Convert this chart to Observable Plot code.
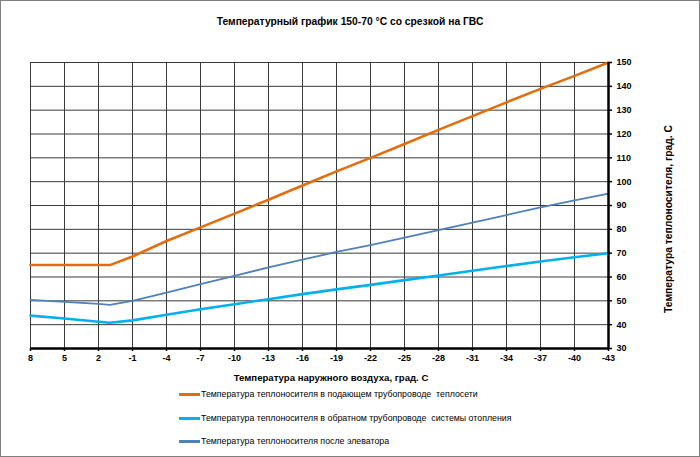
<!DOCTYPE html>
<html>
<head>
<meta charset="utf-8">
<script src="https://cdn.jsdelivr.net/npm/d3@7"></script>
<script src="https://cdn.jsdelivr.net/npm/@observablehq/plot@0.6"></script>
<style>
  html, body { margin: 0; padding: 0; background: #fff; }
  #wrap { position: relative; width: 700px; height: 457px; overflow: hidden; font-family: "Liberation Sans", Arial, sans-serif; color: #000; }
  #border { position: absolute; left: 0; top: 0; width: 700px; height: 457px; box-sizing: border-box; border: 1px solid #7f7f7f; pointer-events: none; }
  #title { position: absolute; left: 0; width: 700px; top: 16px; text-align: center; font-weight: bold; font-size: 10.3px; }
  #chart { position: absolute; left: 0; top: 40px; }
  #xlabel { position: absolute; left: 31px; width: 600px; top: 372px; text-align: center; font-weight: bold; font-size: 9.6px; }
  #ylabel { position: absolute; left: 668px; top: 219px; transform: translate(-50%, -50%) rotate(-90deg); white-space: nowrap; font-weight: bold; font-size: 10.3px; }
  .leg { position: absolute; left: 179px; font-size: 8.8px; white-space: pre; display: flex; align-items: center; }
  .sw { display: inline-block; width: 21px; height: 3px; margin-right: 1px; }
</style>
</head>
<body>
<div id="wrap">
  <div id="title"></div>
  <div id="chart"></div>
  <div id="xlabel"></div>
  <div id="ylabel"></div>
  <div id="legend"></div>
  <div id="border"></div>
</div>
<script>
const titleText = "Температурный график 150-70 °С со срезкой на ГВС";
const xLabelText = "Температура наружного воздуха, град. С";
const yLabelText = "Температура теплоносителя, град. С";
const seriesNames = [
  "Температура теплоносителя в подающем трубопроводе  теплосети",
  "Температура теплоносителя в обратном трубопроводе  системы отопления",
  "Температура теплоносителя после элеватора"
];
const seriesColors = ["#E46C0A", "#00B0F0", "#4F81BD"];

const xTicks = [8, 5, 2, -1, -4, -7, -10, -13, -16, -19, -22, -25, -28, -31, -34, -37, -40, -43];
const yTicks = [30, 40, 50, 60, 70, 80, 90, 100, 110, 120, 130, 140, 150];

const outdoor = [8, 5, 2, 1, -1, -4, -7, -10, -13, -16, -19, -22, -25, -28, -31, -34, -37, -40, -43];
const supply  = [65, 65, 65, 65, 68.6, 75.1, 80.8, 86.6, 92.4, 98.4, 104.3, 110.0, 115.8, 121.7, 127.5, 133.3, 138.9, 144.4, 150];
const ret     = [43.8, 42.6, 41.2, 40.8, 41.8, 44.2, 46.5, 48.6, 50.7, 52.8, 54.8, 56.7, 58.7, 60.6, 62.6, 64.6, 66.5, 68.3, 70];
const elev    = [50.4, 49.6, 48.7, 48.3, 50.0, 53.4, 57.0, 60.5, 64.0, 67.3, 70.5, 73.4, 76.5, 79.7, 82.8, 86.0, 89.2, 92.2, 95];

const seriesValues = [supply, ret, elev];
const widths = [2.5, 2.6, 1.8];

document.getElementById("title").textContent = titleText;
document.getElementById("xlabel").textContent = xLabelText;
document.getElementById("ylabel").textContent = yLabelText;

const legend = document.getElementById("legend");
const legTops = [394, 418, 441];
seriesNames.forEach((n, i) => {
  const d = document.createElement("div");
  d.className = "leg";
  d.style.top = (legTops[i] - 6) + "px";
  d.style.height = "12px";
  const s = document.createElement("span");
  s.className = "sw";
  s.style.background = seriesColors[i];
  d.appendChild(s);
  const t = document.createElement("span");
  t.textContent = n;
  d.appendChild(t);
  legend.appendChild(d);
});

const lineMarks = seriesValues.map((vals, i) =>
  Plot.line(outdoor.map((x, j) => ({x, y: vals[j]})), {
    x: "x", y: "y", stroke: seriesColors[i], strokeWidth: widths[i], strokeLinejoin: "round", strokeLinecap: "round"
  })
);

const plot = Plot.plot({
  width: 700,
  height: 330,
  marginLeft: 30,
  marginRight: 92,
  marginTop: 22,
  marginBottom: 22,
  style: { fontFamily: "'Liberation Sans', Arial, sans-serif", fontSize: "9px", background: "transparent", color: "#000" },
  x: { type: "linear", domain: [8, -43] },
  y: { type: "linear", domain: [30, 150] },
  marks: [
    Plot.gridX(xTicks, { stroke: "#3a3a3a", strokeOpacity: 1, strokeWidth: 1 }),
    Plot.gridY(yTicks, { stroke: "#3a3a3a", strokeOpacity: 1, strokeWidth: 1 }),
    ...lineMarks,
    Plot.ruleY([30], { stroke: "#000", strokeWidth: 2.5 }),
    Plot.ruleX([-43], { stroke: "#000", strokeWidth: 2.5 }),
    Plot.axisX(xTicks, { tickSize: 3, tickPadding: 3, tickFormat: d => String(d), fontWeight: "bold", fontSize: 9, label: null, strokeWidth: 1.5 }),
    Plot.axisY(yTicks, { anchor: "right", tickSize: 3, tickPadding: 5, tickFormat: d => String(d), fontWeight: "bold", fontSize: 9, label: null, strokeWidth: 1.5 })
  ]
});
document.getElementById("chart").appendChild(plot);
</script>
</body>
</html>
